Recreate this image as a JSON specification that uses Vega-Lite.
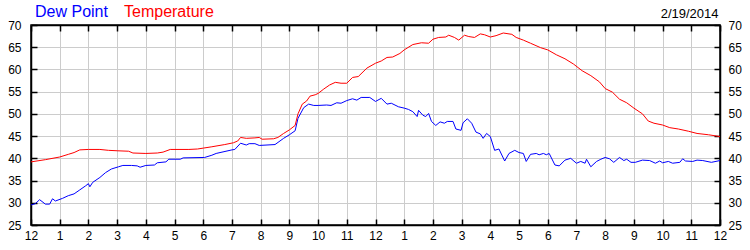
{
  "$schema": "https://vega.github.io/schema/vega-lite/v6.json",
  "autosize": {"type": "none"},
  "width": 689,
  "height": 200,
  "padding": {"left": 31, "top": 25, "right": 30, "bottom": 25},
  "background": "white",
  "config": {
    "view": {"stroke": "black", "strokeWidth": 1.5},
    "axis": {"labelFont": "Liberation Sans", "labelFontSize": 12, "labelColor": "black", "domainColor": "black", "domainWidth": 1.5, "tickColor": "black", "tickWidth": 1.5, "tickSize": -6, "gridColor": "#cccccc", "gridWidth": 1}
  },
  "data": {"values": [
    {"h":0,"s":"Temperature","v":39.2},{"h":0.5,"s":"Temperature","v":39.7},{"h":1.0,"s":"Temperature","v":40.3},{"h":1.3,"s":"Temperature","v":40.9},{"h":1.5,"s":"Temperature","v":41.3},{"h":1.7,"s":"Temperature","v":41.9},{"h":2.0,"s":"Temperature","v":42.0},{"h":2.4,"s":"Temperature","v":42.0},{"h":2.7,"s":"Temperature","v":41.8},{"h":3.0,"s":"Temperature","v":41.7},{"h":3.4,"s":"Temperature","v":41.6},{"h":3.55,"s":"Temperature","v":41.2},{"h":4.0,"s":"Temperature","v":41.1},{"h":4.4,"s":"Temperature","v":41.2},{"h":4.6,"s":"Temperature","v":41.4},{"h":4.85,"s":"Temperature","v":42.0},{"h":5.5,"s":"Temperature","v":42.0},{"h":5.8,"s":"Temperature","v":42.1},{"h":6.0,"s":"Temperature","v":42.3},{"h":6.3,"s":"Temperature","v":42.6},{"h":6.75,"s":"Temperature","v":43.1},{"h":7.05,"s":"Temperature","v":43.5},{"h":7.2,"s":"Temperature","v":43.9},{"h":7.3,"s":"Temperature","v":44.7},{"h":7.5,"s":"Temperature","v":44.5},{"h":7.8,"s":"Temperature","v":44.6},{"h":7.95,"s":"Temperature","v":44.7},{"h":8.05,"s":"Temperature","v":44.3},{"h":8.45,"s":"Temperature","v":44.4},{"h":8.6,"s":"Temperature","v":44.7},{"h":8.8,"s":"Temperature","v":45.6},{"h":9.0,"s":"Temperature","v":46.4},{"h":9.2,"s":"Temperature","v":47.4},{"h":9.3,"s":"Temperature","v":50.0},{"h":9.45,"s":"Temperature","v":52.2},{"h":9.6,"s":"Temperature","v":52.9},{"h":9.72,"s":"Temperature","v":54.0},{"h":9.9,"s":"Temperature","v":54.3},{"h":10.0,"s":"Temperature","v":54.6},{"h":10.2,"s":"Temperature","v":55.6},{"h":10.4,"s":"Temperature","v":56.5},{"h":10.6,"s":"Temperature","v":57.1},{"h":10.8,"s":"Temperature","v":56.9},{"h":11.0,"s":"Temperature","v":56.9},{"h":11.2,"s":"Temperature","v":58.2},{"h":11.4,"s":"Temperature","v":58.4},{"h":11.7,"s":"Temperature","v":60.3},{"h":12.0,"s":"Temperature","v":61.4},{"h":12.2,"s":"Temperature","v":61.9},{"h":12.4,"s":"Temperature","v":62.7},{"h":12.6,"s":"Temperature","v":62.8},{"h":12.85,"s":"Temperature","v":63.6},{"h":13.0,"s":"Temperature","v":64.4},{"h":13.3,"s":"Temperature","v":65.6},{"h":13.6,"s":"Temperature","v":66.0},{"h":13.85,"s":"Temperature","v":65.9},{"h":14.0,"s":"Temperature","v":66.8},{"h":14.2,"s":"Temperature","v":67.2},{"h":14.45,"s":"Temperature","v":67.3},{"h":14.55,"s":"Temperature","v":67.7},{"h":14.75,"s":"Temperature","v":67.2},{"h":14.9,"s":"Temperature","v":66.6},{"h":15.1,"s":"Temperature","v":67.7},{"h":15.25,"s":"Temperature","v":67.4},{"h":15.45,"s":"Temperature","v":67.2},{"h":15.65,"s":"Temperature","v":68.0},{"h":15.8,"s":"Temperature","v":67.8},{"h":16.0,"s":"Temperature","v":67.3},{"h":16.2,"s":"Temperature","v":67.6},{"h":16.45,"s":"Temperature","v":68.2},{"h":16.75,"s":"Temperature","v":67.9},{"h":16.9,"s":"Temperature","v":67.2},{"h":17.15,"s":"Temperature","v":66.6},{"h":17.4,"s":"Temperature","v":65.9},{"h":17.75,"s":"Temperature","v":64.9},{"h":18.0,"s":"Temperature","v":64.4},{"h":18.3,"s":"Temperature","v":63.3},{"h":18.6,"s":"Temperature","v":62.4},{"h":18.9,"s":"Temperature","v":61.2},{"h":19.2,"s":"Temperature","v":59.7},{"h":19.5,"s":"Temperature","v":58.6},{"h":19.8,"s":"Temperature","v":57.2},{"h":20.0,"s":"Temperature","v":55.7},{"h":20.25,"s":"Temperature","v":54.9},{"h":20.5,"s":"Temperature","v":53.3},{"h":20.75,"s":"Temperature","v":52.5},{"h":21.0,"s":"Temperature","v":51.3},{"h":21.3,"s":"Temperature","v":50.0},{"h":21.5,"s":"Temperature","v":48.4},{"h":21.7,"s":"Temperature","v":47.9},{"h":22.0,"s":"Temperature","v":47.5},{"h":22.25,"s":"Temperature","v":46.9},{"h":22.55,"s":"Temperature","v":46.6},{"h":22.9,"s":"Temperature","v":46.1},{"h":23.2,"s":"Temperature","v":45.6},{"h":23.6,"s":"Temperature","v":45.3},{"h":24.0,"s":"Temperature","v":44.9},
    {"h":0,"s":"Dew Point","v":29.5},{"h":0.15,"s":"Dew Point","v":29.8},{"h":0.3,"s":"Dew Point","v":30.7},{"h":0.5,"s":"Dew Point","v":29.7},{"h":0.65,"s":"Dew Point","v":29.7},{"h":0.75,"s":"Dew Point","v":30.9},{"h":0.85,"s":"Dew Point","v":30.4},{"h":1.1,"s":"Dew Point","v":31.0},{"h":1.3,"s":"Dew Point","v":31.6},{"h":1.5,"s":"Dew Point","v":32.0},{"h":1.7,"s":"Dew Point","v":32.9},{"h":1.9,"s":"Dew Point","v":33.8},{"h":2.0,"s":"Dew Point","v":34.3},{"h":2.05,"s":"Dew Point","v":33.6},{"h":2.15,"s":"Dew Point","v":34.6},{"h":2.4,"s":"Dew Point","v":35.7},{"h":2.6,"s":"Dew Point","v":36.8},{"h":2.8,"s":"Dew Point","v":37.6},{"h":3.05,"s":"Dew Point","v":38.1},{"h":3.2,"s":"Dew Point","v":38.4},{"h":3.5,"s":"Dew Point","v":38.4},{"h":3.7,"s":"Dew Point","v":38.3},{"h":3.8,"s":"Dew Point","v":38.0},{"h":4.0,"s":"Dew Point","v":38.4},{"h":4.3,"s":"Dew Point","v":38.5},{"h":4.4,"s":"Dew Point","v":39.0},{"h":4.7,"s":"Dew Point","v":39.2},{"h":4.8,"s":"Dew Point","v":39.8},{"h":5.2,"s":"Dew Point","v":39.8},{"h":5.3,"s":"Dew Point","v":40.1},{"h":6.05,"s":"Dew Point","v":40.2},{"h":6.3,"s":"Dew Point","v":40.7},{"h":6.45,"s":"Dew Point","v":41.1},{"h":7.0,"s":"Dew Point","v":41.9},{"h":7.1,"s":"Dew Point","v":42.0},{"h":7.3,"s":"Dew Point","v":43.4},{"h":7.5,"s":"Dew Point","v":43.0},{"h":7.6,"s":"Dew Point","v":43.3},{"h":7.8,"s":"Dew Point","v":43.3},{"h":7.95,"s":"Dew Point","v":42.9},{"h":8.5,"s":"Dew Point","v":43.1},{"h":8.8,"s":"Dew Point","v":44.5},{"h":9.0,"s":"Dew Point","v":45.3},{"h":9.2,"s":"Dew Point","v":46.2},{"h":9.3,"s":"Dew Point","v":49.0},{"h":9.5,"s":"Dew Point","v":51.4},{"h":9.67,"s":"Dew Point","v":52.2},{"h":9.85,"s":"Dew Point","v":51.9},{"h":10.0,"s":"Dew Point","v":51.9},{"h":10.3,"s":"Dew Point","v":52.0},{"h":10.45,"s":"Dew Point","v":51.9},{"h":10.65,"s":"Dew Point","v":52.5},{"h":10.8,"s":"Dew Point","v":52.4},{"h":11.0,"s":"Dew Point","v":53.0},{"h":11.2,"s":"Dew Point","v":53.4},{"h":11.35,"s":"Dew Point","v":53.1},{"h":11.5,"s":"Dew Point","v":53.7},{"h":11.8,"s":"Dew Point","v":53.7},{"h":12.0,"s":"Dew Point","v":52.8},{"h":12.2,"s":"Dew Point","v":53.5},{"h":12.4,"s":"Dew Point","v":52.2},{"h":12.55,"s":"Dew Point","v":52.4},{"h":12.8,"s":"Dew Point","v":51.6},{"h":13.0,"s":"Dew Point","v":51.3},{"h":13.15,"s":"Dew Point","v":51.0},{"h":13.3,"s":"Dew Point","v":50.5},{"h":13.45,"s":"Dew Point","v":49.4},{"h":13.5,"s":"Dew Point","v":50.8},{"h":13.65,"s":"Dew Point","v":49.7},{"h":13.75,"s":"Dew Point","v":49.4},{"h":13.85,"s":"Dew Point","v":50.1},{"h":13.95,"s":"Dew Point","v":48.3},{"h":14.1,"s":"Dew Point","v":47.4},{"h":14.25,"s":"Dew Point","v":48.2},{"h":14.4,"s":"Dew Point","v":47.9},{"h":14.5,"s":"Dew Point","v":48.3},{"h":14.7,"s":"Dew Point","v":48.3},{"h":14.8,"s":"Dew Point","v":46.6},{"h":14.98,"s":"Dew Point","v":46.3},{"h":15.05,"s":"Dew Point","v":48.0},{"h":15.2,"s":"Dew Point","v":48.9},{"h":15.35,"s":"Dew Point","v":47.9},{"h":15.5,"s":"Dew Point","v":45.9},{"h":15.65,"s":"Dew Point","v":45.5},{"h":15.75,"s":"Dew Point","v":44.5},{"h":15.87,"s":"Dew Point","v":45.6},{"h":16.0,"s":"Dew Point","v":44.9},{"h":16.15,"s":"Dew Point","v":41.8},{"h":16.3,"s":"Dew Point","v":42.1},{"h":16.5,"s":"Dew Point","v":39.4},{"h":16.65,"s":"Dew Point","v":41.1},{"h":16.85,"s":"Dew Point","v":41.8},{"h":17.0,"s":"Dew Point","v":41.3},{"h":17.15,"s":"Dew Point","v":41.1},{"h":17.25,"s":"Dew Point","v":39.3},{"h":17.4,"s":"Dew Point","v":40.9},{"h":17.6,"s":"Dew Point","v":41.1},{"h":17.7,"s":"Dew Point","v":40.8},{"h":17.85,"s":"Dew Point","v":41.1},{"h":17.95,"s":"Dew Point","v":40.8},{"h":18.05,"s":"Dew Point","v":41.1},{"h":18.25,"s":"Dew Point","v":38.5},{"h":18.4,"s":"Dew Point","v":38.3},{"h":18.6,"s":"Dew Point","v":39.6},{"h":18.8,"s":"Dew Point","v":40.0},{"h":19.0,"s":"Dew Point","v":38.9},{"h":19.15,"s":"Dew Point","v":39.3},{"h":19.3,"s":"Dew Point","v":38.9},{"h":19.35,"s":"Dew Point","v":39.8},{"h":19.5,"s":"Dew Point","v":38.1},{"h":19.7,"s":"Dew Point","v":39.3},{"h":19.85,"s":"Dew Point","v":39.8},{"h":20.0,"s":"Dew Point","v":40.2},{"h":20.15,"s":"Dew Point","v":39.9},{"h":20.3,"s":"Dew Point","v":39.1},{"h":20.5,"s":"Dew Point","v":40.2},{"h":20.65,"s":"Dew Point","v":39.5},{"h":20.75,"s":"Dew Point","v":39.8},{"h":20.9,"s":"Dew Point","v":39.1},{"h":21.05,"s":"Dew Point","v":39.1},{"h":21.3,"s":"Dew Point","v":39.6},{"h":21.55,"s":"Dew Point","v":39.5},{"h":21.75,"s":"Dew Point","v":38.9},{"h":21.9,"s":"Dew Point","v":39.4},{"h":22.0,"s":"Dew Point","v":39.0},{"h":22.2,"s":"Dew Point","v":39.3},{"h":22.35,"s":"Dew Point","v":38.9},{"h":22.6,"s":"Dew Point","v":39.1},{"h":22.7,"s":"Dew Point","v":39.9},{"h":22.8,"s":"Dew Point","v":39.4},{"h":23.05,"s":"Dew Point","v":39.3},{"h":23.2,"s":"Dew Point","v":39.6},{"h":23.4,"s":"Dew Point","v":39.5},{"h":23.7,"s":"Dew Point","v":39.1},{"h":24.0,"s":"Dew Point","v":39.5}
  ]},
  "layer": [
    {
      "transform": [{"filter": "datum.s == 'Dew Point'"}],
      "mark": {"type": "line", "strokeWidth": 1, "clip": true},
      "encoding": {
        "x": {"field": "h", "type": "quantitative", "scale": {"domain": [0, 24], "nice": false},
              "axis": {"orient": "bottom", "title": null, "values": [0,1,2,3,4,5,6,7,8,9,10,11,12,13,14,15,16,17,18,19,20,21,22,23,24], "labelExpr": "datum.value % 12 == 0 ? '12' : '' + (datum.value % 12)", "labelPadding": 11, "labelFlush": false, "labelOverlap": false, "grid": true}},
        "y": {"field": "v", "type": "quantitative", "scale": {"domain": [25, 70], "nice": false, "zero": false},
              "axis": {"orient": "left", "title": null, "values": [25,30,35,40,45,50,55,60,65,70], "labelPadding": 16, "labelFlush": false, "labelOverlap": false, "grid": true}},
        "color": {"field": "s", "type": "nominal",
                  "scale": {"domain": ["Dew Point", "Temperature"], "range": ["#0000ff", "#ff0000"]},
                  "legend": {"orient": "none", "legendX": -12, "legendY": -21, "direction": "horizontal", "title": null, "symbolType": "stroke", "symbolSize": 0, "symbolStrokeWidth": 0, "labelFontSize": 16, "labelFont": "Liberation Sans", "labelOffset": 0, "columnPadding": -32, "padding": 0,
                             "labelColor": {"expr": "datum.value == 'Dew Point' ? '#0000ff' : '#ff0000'"}}}
      }
    },
    {
      "transform": [{"filter": "datum.s == 'Temperature'"}],
      "mark": {"type": "line", "strokeWidth": 1, "clip": true},
      "encoding": {
        "x": {"field": "h", "type": "quantitative", "scale": {"domain": [0, 24], "nice": false},
              "axis": {"orient": "top", "values": [0,1,2,3,4,5,6,7,8,9,10,11,12,13,14,15,16,17,18,19,20,21,22,23,24], "labels": false, "grid": false,
                       "title": "2/19/2014", "titleFont": "Liberation Sans", "titleFontSize": 13, "titleFontWeight": "normal", "titleColor": "black", "titleAlign": "right", "titleBaseline": "alphabetic", "titleX": 687, "titleY": -8, "titleAngle": 0}},
        "y": {"field": "v", "type": "quantitative", "scale": {"domain": [25, 70], "nice": false, "zero": false},
              "axis": {"orient": "right", "title": null, "values": [25,30,35,40,45,50,55,60,65,70], "labelPadding": 14, "labelFlush": false, "labelOverlap": false, "grid": false}},
        "color": {"field": "s", "type": "nominal", "legend": null}
      }
    }
  ],
  "resolve": {"axis": {"x": "independent", "y": "independent"}}
}
